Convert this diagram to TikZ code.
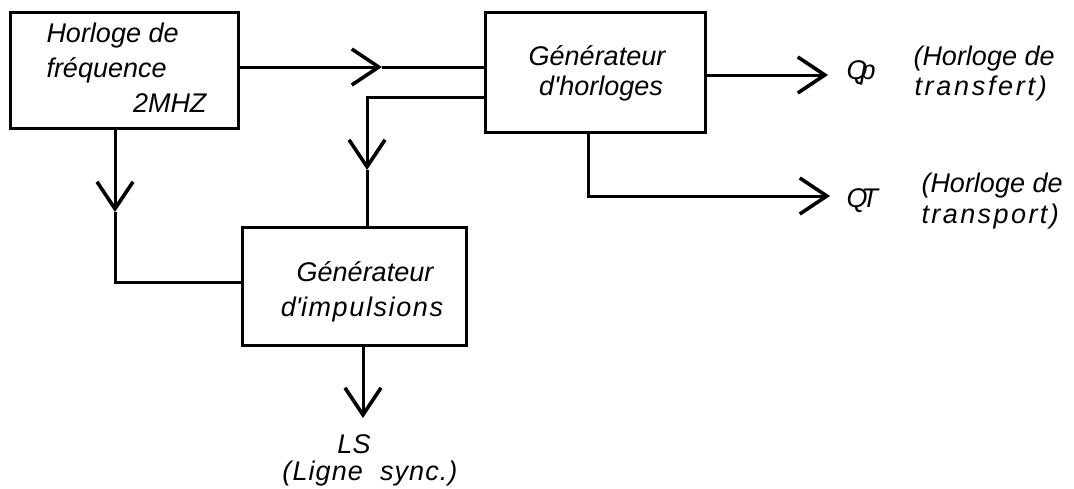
\documentclass[tikz,border=0pt]{standalone}
\usepackage{fontspec}
\setmainfont{Liberation Sans}
\usetikzlibrary{arrows.meta}
\begin{document}
\begin{tikzpicture}[x=1pt,y=-1pt,
  line width=3pt,
  box/.style={draw,rectangle,inner sep=0pt,line width=3pt},
  txt/.style={inner sep=0pt,font=\fontsize{27}{30}\selectfont\itshape},
  vhead/.style={-{Straight Barb[length=27pt,width=36pt,line width=3.6pt]}},
  line join=miter]
\useasboundingbox (0,0) rectangle (1074,488);
\fill[white] (0,0) rectangle (1074,488);
% boxes
\node[box,minimum width=228pt,minimum height=116pt] (b1) at (124,70) {};
\node[box,minimum width=220pt,minimum height=120pt] (b2) at (595,72) {};
\node[box,minimum width=224pt,minimum height=118pt] (b3) at (354,286) {};
% box texts
\node[txt,anchor=base west] (t1a) at (45,42) {Horloge de};
\node[txt,anchor=base west] (t1b) at (45,77) {fréquence};
\node[txt,anchor=base east] (t1c) at (208,112) {2MHZ};
\node[txt,anchor=base] (t2a) at (597,65) {Générateur};
\node[txt,anchor=base] (t2b) at (601,95) {d\textquotesingle horloges};
\node[txt,anchor=base] (t3a) at (365,281) {Générateur};
\node[txt,anchor=base] (t3b) at (362,316) {\addfontfeature{LetterSpace=6}d\textquotesingle impulsions};
% output labels
\node[txt,anchor=base west] (qp) at (845,79) {Q\kern-0.26em p};
\node[txt,anchor=base west] (qt) at (845,207) {Q\kern-0.22em T};
\node[txt,anchor=base west] (h1) at (912,65) {(Horloge de};
\node[txt,anchor=base west] (h1b) at (913,95) {\addfontfeature{LetterSpace=10}transfert)};
\node[txt,anchor=base west] (h2) at (920,192) {(Horloge de};
\node[txt,anchor=base west] (h2b) at (920,223) {\addfontfeature{LetterSpace=9}transport)};
\node[txt,anchor=base] (ls) at (354,453) {LS};
\node[txt,anchor=base] (lsb) at (370,480) {\addfontfeature{LetterSpace=4}(Ligne\ \ sync.)};
% arrow tip coordinates
\coordinate (a1) at (382,67);
\coordinate (c2) at (367,97);
\coordinate (a2) at (367,170);
\coordinate (a3) at (115,212);
\coordinate (c3) at (115,282);
\coordinate (a4) at (828,75);
\coordinate (c5) at (588,196);
\coordinate (a5) at (830,196);
\coordinate (a6) at (363,418);
% connectors
\draw[vhead] (b1.east |- a1) -- (a1);
\draw (a1) -- (b2.west |- a1);
\draw[vhead] (b2.west |- c2) -- (c2) -- (a2);
\draw (a2) -- (b3.north -| a2);
\draw[vhead] (b1.south -| a3) -- (a3);
\draw (a3) -- (c3) -- (b3.west |- c3);
\draw[vhead] (b2.east |- a4) -- (a4);
\draw[vhead] (b2.south -| c5) -- (c5) -- (a5);
\draw[vhead] (b3.south -| a6) -- (a6);
\end{tikzpicture}
\end{document}
